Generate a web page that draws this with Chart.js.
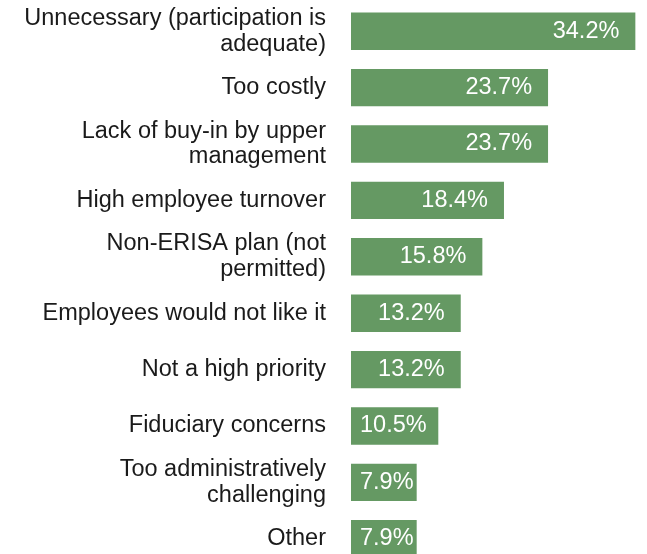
<!DOCTYPE html>
<html>
<head>
<meta charset="utf-8">
<script src="https://cdn.jsdelivr.net/npm/chart.js@4"></script>
<style>
  html, body { margin:0; padding:0; background:#fff; overflow:hidden; }
  #wrap { width:647px; height:570px; position:relative; }
</style>
</head>
<body>
<div id="wrap"><canvas id="chartMotivos"></canvas></div>
<script>
const categorias = [
  ['Unnecessary (participation is', 'adequate)'],
  'Too costly',
  ['Lack of buy-in by upper', 'management'],
  'High employee turnover',
  ['Non-ERISA plan (not', 'permitted)'],
  'Employees would not like it',
  'Not a high priority',
  'Fiduciary concerns',
  ['Too administratively', 'challenging'],
  'Other'
];
const percentuais = [34.2, 23.7, 23.7, 18.4, 15.8, 13.2, 13.2, 10.5, 7.9, 7.9];

const FONTE = "'Liberation Sans', Arial, sans-serif";
const VERDE = '#659963';

// rótulos de valor dentro da barra, alinhados ao fim
const rotulosBarra = {
  id: 'rotulosBarra',
  afterDatasetsDraw(chart) {
    const ctx = chart.ctx;
    const meta = chart.getDatasetMeta(0);
    ctx.save();
    ctx.font = '23.5px ' + FONTE;
    ctx.fillStyle = '#fff';
    ctx.textAlign = 'right';
    ctx.textBaseline = 'middle';
    meta.data.forEach((bar, i) => {
      const txt = percentuais[i].toFixed(1) + '%';
      const w = ctx.measureText(txt).width;
      const x = Math.max(bar.x - 16, bar.base + 9 + w);
      ctx.fillText(txt, x, bar.y);
    });
    ctx.restore();
  }
};

new Chart(document.getElementById('chartMotivos'), {
  type: 'bar',
  data: {
    labels: categorias,
    datasets: [{ data: percentuais, backgroundColor: VERDE, borderWidth: 0,
      barPercentage: 0.663, categoryPercentage: 1 }]
  },
  options: {
    indexAxis: 'y',
    responsive: true, maintainAspectRatio: false, animation: false,
    layout: { padding: { top: 3, bottom: 3, left: 0, right: 5 } },
    plugins: { legend: { display: false }, tooltip: { enabled: false } },
    scales: {
      x: { display: false, min: 0, max: 35 },
      y: {
        grid: { display: false, drawTicks: false },
        border: { display: false },
        ticks: { autoSkip: false, padding: 25, color: '#1a1a1a',
          font: { family: FONTE, size: 23.5, lineHeight: 1.1 } },
        afterFit: s => { s.width = 351; s.paddingTop = 0; s.paddingBottom = 0; }
      }
    }
  },
  plugins: [rotulosBarra]
});
</script>
</body>
</html>
